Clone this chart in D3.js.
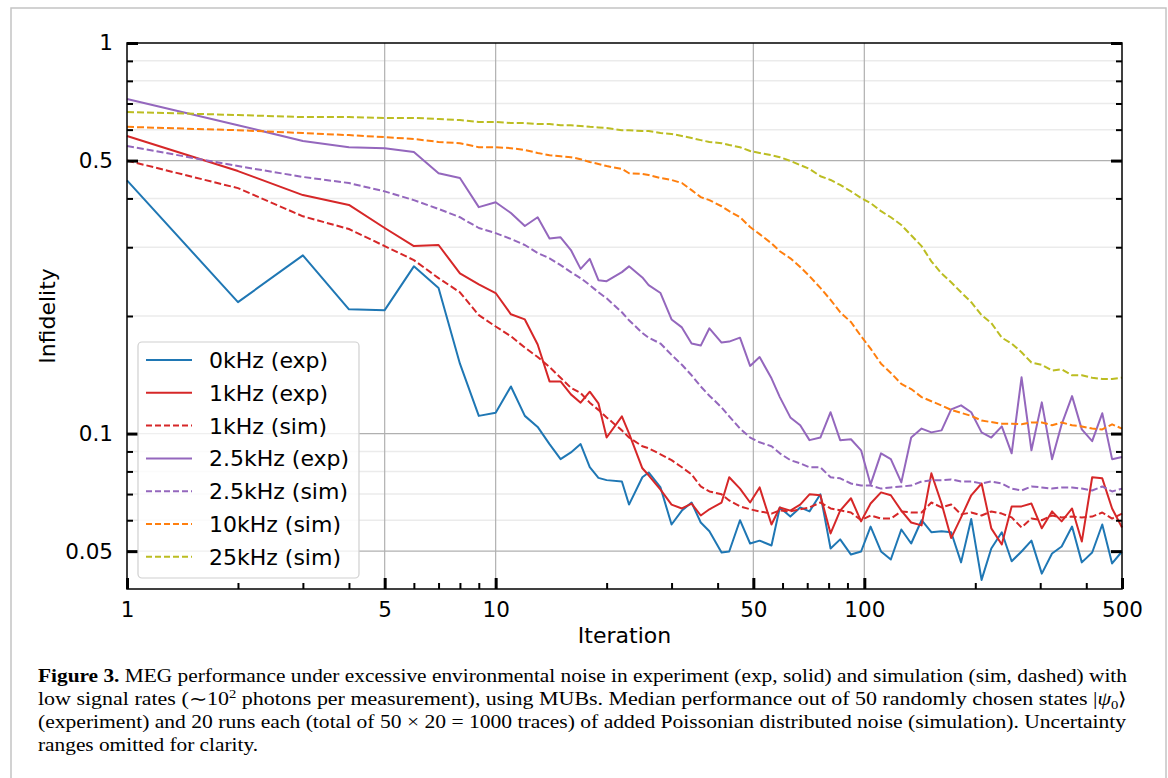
<!DOCTYPE html>
<html>
<head>
<meta charset="utf-8">
<script src="https://cdn.jsdelivr.net/npm/d3@7"></script>
<style>
  body { margin: 0; background: #fff; }
  svg { display: block; }
  .tick text { font-family: "DejaVu Sans", sans-serif; font-size: 21.5px; fill: #000; }
</style>
</head>
<body>
<svg id="chart" width="1168" height="778"></svg>
<script>
"use strict"

// iterations (log-spaced, rounded)
var iterations = [1,2,3,4,5,6,7,8,9,10,11,12,13,14,15,16,17,18,19,20,
	22,23,25,26,28,30,32,34,36,38,41,43,46,49,52,56,59,63,67,71,
	76,81,86,92,98,104,111,118,126,134,143,152,162,172,183,195,208,221,236,251,
	267,284,303,323,343,366,389,415,442,470,500];

var exp0k = [0.445,0.217,0.286,0.208,0.207,0.268,0.236,0.151,0.111,0.113,0.132,0.111,0.104,0.094,0.086,0.0895,0.094,0.082,0.077,0.076,
	0.0754,0.0658,0.0773,0.0795,0.0728,0.0585,0.0635,0.0666,0.0592,0.0562,0.0496,0.0499,0.0600,0.0523,0.0532,0.0517,0.0647,0.0613,0.0647,0.0632,
	0.0699,0.0508,0.0536,0.0490,0.0499,0.0578,0.0499,0.0476,0.0568,0.0523,0.0600,0.0559,0.0562,0.0559,0.0468,0.0604,0.0422,0.0508,0.0559,0.0471,
	0.0499,0.0532,0.0438,0.0493,0.0514,0.0578,0.0468,0.0496,0.0585,0.0465,0.0499];

var exp1k = [0.578,0.470,0.408,0.385,0.336,0.302,0.304,0.257,0.241,0.229,0.202,0.196,0.169,0.136,0.136,0.126,0.120,0.128,0.1195,0.0977,
	0.1107,0.1001,0.0815,0.0782,0.0719,0.0658,0.0643,0.0662,0.0617,0.0640,0.0666,0.0773,0.0723,0.0666,0.0728,0.0585,0.0647,0.0635,0.0658,0.0699,
	0.0695,0.0555,0.0635,0.0683,0.0596,0.0662,0.0707,0.0695,0.0635,0.0592,0.0582,0.0791,0.0662,0.0540,0.0610,0.0695,0.0745,0.0572,0.0520,0.0651,
	0.0651,0.0662,0.0572,0.0632,0.0596,0.0643,0.0529,0.0773,0.0768,0.0643,0.0575];

var sim1k = [0.500,0.425,0.360,0.334,0.302,0.278,0.250,0.230,0.201,0.188,0.1775,0.166,0.157,0.148,0.139,0.131,0.127,0.120,0.115,0.110,
	0.1019,0.0977,0.0928,0.0917,0.0885,0.0855,0.0820,0.0786,0.0732,0.0711,0.0699,0.0674,0.0651,0.0640,0.0632,0.0624,0.0636,0.0632,0.0640,0.0647,
	0.0666,0.0643,0.0636,0.0628,0.0600,0.0617,0.0606,0.0606,0.0632,0.0628,0.0628,0.0666,0.0647,0.0658,0.0621,0.0628,0.0617,0.0632,0.0624,0.0610,
	0.0575,0.0606,0.0600,0.0617,0.0610,0.0613,0.0610,0.0613,0.0628,0.0606,0.0624];

var exp2k5 = [0.719,0.616,0.561,0.541,0.538,0.526,0.464,0.451,0.380,0.391,0.367,0.340,0.358,0.316,0.318,0.295,0.264,0.280,0.247,0.2455,
	0.259,0.268,0.251,0.240,0.229,0.196,0.187,0.170,0.168,0.186,0.171,0.172,0.176,0.149,0.157,0.1385,0.124,0.110,0.105,0.0962,
	0.0977,0.1134,0.0962,0.0967,0.0906,0.0741,0.0890,0.0860,0.0750,0.0977,0.1030,0.1007,0.1019,0.1153,0.1181,0.1134,0.1007,0.0977,0.1043,0.0890,
	0.1393,0.0906,0.1202,0.0860,0.1056,0.1247,0.1025,0.0956,0.1127,0.0860,0.0871];

var sim2k5 = [0.545,0.484,0.454,0.438,0.417,0.396,0.376,0.358,0.336,0.326,0.315,0.304,0.290,0.281,0.270,0.259,0.250,0.240,0.230,0.222,
	0.2045,0.195,0.181,0.176,0.170,0.159,0.150,0.141,0.132,0.125,0.1167,0.1107,0.1030,0.0977,0.0950,0.0928,0.0890,0.0855,0.0839,0.0820,
	0.0820,0.0773,0.0768,0.0745,0.0736,0.0736,0.0723,0.0728,0.0732,0.0736,0.0754,0.0759,0.0759,0.0763,0.0754,0.0754,0.0745,0.0754,0.0745,0.0723,
	0.0715,0.0732,0.0728,0.0723,0.0728,0.0728,0.0723,0.0715,0.0732,0.0711,0.0723];

var sim10k = [0.610,0.598,0.588,0.581,0.574,0.568,0.558,0.554,0.541,0.541,0.538,0.532,0.523,0.516,0.513,0.510,0.504,0.496,0.490,0.484,
	0.476,0.464,0.462,0.459,0.451,0.446,0.438,0.420,0.403,0.396,0.382,0.371,0.358,0.338,0.324,0.307,0.293,0.281,0.267,0.253,
	0.236,0.220,0.2045,0.193,0.1775,0.165,0.151,0.143,0.134,0.130,0.124,0.121,0.118,0.115,0.113,0.111,0.108,0.107,0.106,0.106,
	0.1056,0.1068,0.1068,0.1050,0.1068,0.1050,0.1043,0.1030,0.1025,0.1056,0.1030];

var sim25k = [0.666,0.654,0.646,0.646,0.643,0.643,0.639,0.635,0.628,0.628,0.624,0.624,0.620,0.620,0.616,0.616,0.613,0.610,0.608,0.606,
	0.598,0.598,0.595,0.595,0.588,0.585,0.578,0.571,0.564,0.558,0.554,0.548,0.541,0.529,0.523,0.516,0.510,0.499,0.487,0.476,
	0.456,0.446,0.433,0.417,0.401,0.389,0.371,0.358,0.342,0.322,0.302,0.276,0.257,0.244,0.230,0.217,0.201,0.192,0.176,0.170,
	0.1615,0.152,0.150,0.145,0.146,0.141,0.141,0.139,0.138,0.138,0.139];

var seriesLabels = ["0kHz (exp)", "1kHz (exp)", "1kHz (sim)", "2.5kHz (exp)", "2.5kHz (sim)", "10kHz (sim)", "25kHz (sim)"];
var seriesValues = [exp0k, exp1k, sim1k, exp2k5, sim2k5, sim10k, sim25k];
var seriesColors = ["#1f77b4", "#d62728", "#d62728", "#9467bd", "#9467bd", "#ff7f0e", "#bcbd22"];
var seriesDashed = [false, false, true, false, true, true, true];

var xMajor = [1, 5, 10, 50, 100, 500];
var xMinor = [2, 3, 4, 6, 7, 8, 9, 20, 30, 40, 60, 70, 80, 90, 200, 300, 400];
var yMajor = [1, 0.5, 0.1, 0.05];
var yMinor = [0.9, 0.8, 0.7, 0.6, 0.4, 0.3, 0.2, 0.09, 0.08, 0.07, 0.06];

var pLeft = 127, pRight = 1122, pTop = 43, pBottom = 589;

var svg = d3.select("#chart");

svg.append("rect")
   .attr("x", 11).attr("y", 8)
   .attr("width", 1155).attr("height", 820)
   .style("fill", "#fff")
   .style("stroke", "#c4c4c4")
   .style("stroke-width", 1.5);

var x = d3.scaleLog().domain([1, 500]).range([pLeft, pRight]);
var y = d3.scaleLog().domain([0.04, 1]).range([pBottom, pTop]);

// grid
var grid = svg.append("g");
grid.selectAll(".yminor")
    .data(yMinor)
    .enter()
    .append("line")
    .attr("x1", pLeft).attr("x2", pRight)
    .attr("y1", function(d){ return y(d); })
    .attr("y2", function(d){ return y(d); })
    .style("stroke", "#ebebeb")
    .style("stroke-width", 1.5);
grid.selectAll(".ymajor")
    .data([0.5, 0.1, 0.05])
    .enter()
    .append("line")
    .attr("x1", pLeft).attr("x2", pRight)
    .attr("y1", function(d){ return y(d); })
    .attr("y2", function(d){ return y(d); })
    .style("stroke", "#b0b0b0")
    .style("stroke-width", 1.2);
grid.selectAll(".xmajor")
    .data([5, 10, 50, 100])
    .enter()
    .append("line")
    .attr("y1", pTop).attr("y2", pBottom)
    .attr("x1", function(d){ return x(d); })
    .attr("x2", function(d){ return x(d); })
    .style("stroke", "#b0b0b0")
    .style("stroke-width", 1.2);

// data lines
var line = d3.line()
	.x(function(d, i){ return x(iterations[i]); })
	.y(function(d){ return y(d); });

var lines = svg.append("g");
for (let i = 0; i < seriesValues.length; i++) {
	lines.append("path")
	     .attr("d", line(seriesValues[i]))
	     .style("fill", "none")
	     .style("stroke", seriesColors[i])
	     .style("stroke-width", 2)
	     .style("stroke-linejoin", "round")
	     .style("stroke-dasharray", seriesDashed[i] ? "7,3" : null);
}

// axes
function styleTicks(g, w) {
	g.select(".domain").remove();
	g.selectAll(".tick line").style("stroke", "#000").style("stroke-width", w);
}

svg.append("g")
   .attr("transform", "translate(" + pLeft + ",0)")
   .call(d3.axisLeft(y).tickValues(yMajor).tickFormat(d3.format("")).tickSize(-11).tickPadding(14))
   .call(styleTicks, 3);
svg.append("g")
   .attr("transform", "translate(" + pLeft + ",0)")
   .call(d3.axisLeft(y).tickValues(yMinor).tickFormat("").tickSize(-6))
   .call(styleTicks, 2);
svg.append("g")
   .attr("transform", "translate(" + pRight + ",0)")
   .call(d3.axisRight(y).tickValues(yMajor).tickFormat("").tickSize(-11))
   .call(styleTicks, 3);
svg.append("g")
   .attr("transform", "translate(" + pRight + ",0)")
   .call(d3.axisRight(y).tickValues(yMinor).tickFormat("").tickSize(-6))
   .call(styleTicks, 2);
svg.append("g")
   .attr("transform", "translate(0," + pBottom + ")")
   .call(d3.axisBottom(x).tickValues(xMajor).tickFormat(d3.format("")).tickSize(-11).tickPadding(13))
   .call(styleTicks, 3);
svg.append("g")
   .attr("transform", "translate(0," + pBottom + ")")
   .call(d3.axisBottom(x).tickValues(xMinor).tickFormat("").tickSize(-6))
   .call(styleTicks, 2);

svg.append("rect")
   .attr("x", pLeft).attr("y", pTop)
   .attr("width", pRight - pLeft).attr("height", pBottom - pTop)
   .style("fill", "none")
   .style("stroke", "#000")
   .style("stroke-width", 1.5);

// axis titles
svg.append("text")
   .attr("x", (pLeft + pRight) / 2).attr("y", 643)
   .attr("text-anchor", "middle")
   .style("font-family", "DejaVu Sans, sans-serif")
   .style("font-size", "22px")
   .text("Iteration");
svg.append("text")
   .attr("transform", "translate(55," + (pTop + pBottom) / 2 + ") rotate(-90)")
   .attr("text-anchor", "middle")
   .style("font-family", "DejaVu Sans, sans-serif")
   .style("font-size", "22px")
   .text("Infidelity");

// legend
var legend = svg.append("g");
legend.append("rect")
      .attr("x", 138).attr("y", 342)
      .attr("width", 221).attr("height", 236)
      .attr("rx", 4)
      .style("fill", "#fff")
      .style("fill-opacity", 0.8)
      .style("stroke", "#d0d0d0")
      .style("stroke-width", 1.2);
legend.selectAll(".entry")
      .data(seriesLabels)
      .enter()
      .append("g")
      .each(function(d, i){
      	let g = d3.select(this);
      	let cy = 360 + i * 32.8;
      	g.append("line")
      	 .attr("x1", 146).attr("x2", 192)
      	 .attr("y1", cy).attr("y2", cy)
      	 .style("stroke", seriesColors[i])
      	 .style("stroke-width", 2)
      	 .style("stroke-dasharray", seriesDashed[i] ? "6,3" : null);
      	g.append("text")
      	 .attr("x", 209).attr("y", cy)
      	 .attr("dy", "0.36em")
      	 .style("font-family", "DejaVu Sans, sans-serif")
      	 .style("font-size", "22px")
      	 .text(d);
      });

// caption
var cap = svg.append("g")
	.style("font-family", "Liberation Serif, serif")
	.style("font-size", "18px");
var c1 = cap.append("text").attr("x", 38).attr("y", 682).attr("textLength", 1089).attr("lengthAdjust", "spacingAndGlyphs");
c1.append("tspan").style("font-weight", "bold").text("Figure 3.");
c1.append("tspan").text(" MEG performance under excessive environmental noise in experiment (exp, solid) and simulation (sim, dashed) with");
var c2 = cap.append("text").attr("x", 38).attr("y", 705).attr("textLength", 1089).attr("lengthAdjust", "spacingAndGlyphs");
c2.append("tspan").text("low signal rates (\u223C10");
c2.append("tspan").attr("dy", -7).style("font-size", "12px").text("2");
c2.append("tspan").attr("dy", 7).text(" photons per measurement), using MUBs. Median performance out of 50 randomly chosen states |");
c2.append("tspan").style("font-style", "italic").text("\u03C8");
c2.append("tspan").attr("dy", 4).style("font-size", "12px").text("0");
c2.append("tspan").attr("dy", -4).text("\u27E9");
cap.append("text").attr("x", 38).attr("y", 728).attr("textLength", 1088).attr("lengthAdjust", "spacingAndGlyphs")
   .text("(experiment) and 20 runs each (total of 50 \u00D7 20 = 1000 traces) of added Poissonian distributed noise (simulation). Uncertainty");
cap.append("text").attr("x", 38).attr("y", 751).attr("textLength", 220).attr("lengthAdjust", "spacingAndGlyphs")
   .text("ranges omitted for clarity.");
</script>
</body>
</html>
